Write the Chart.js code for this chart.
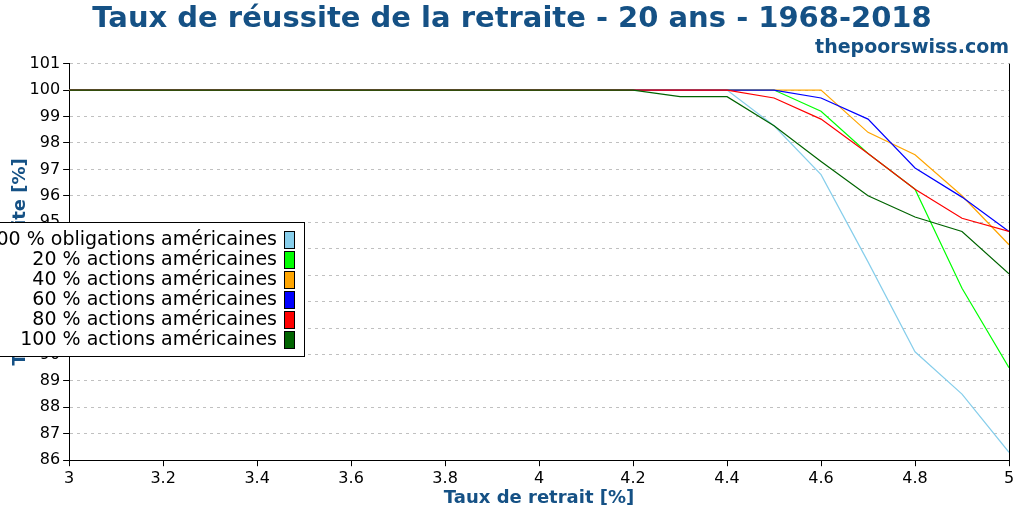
<!DOCTYPE html>
<html>
<head>
<meta charset="utf-8">
<script src="https://cdn.jsdelivr.net/npm/chart.js@4"></script>
<style>
  body { margin: 0; background: #fff; }
  #wrap { width: 1024px; height: 512px; }
</style>
</head>
<body>
<div id="wrap"><canvas id="myChart" width="1024" height="512"></canvas></div>
<script>
const withdrawalRates = [3.0, 3.1, 3.2, 3.3, 3.4, 3.5, 3.6, 3.7, 3.8, 3.9, 4.0, 4.1, 4.2, 4.3, 4.4, 4.5, 4.6, 4.7, 4.8, 4.9, 5.0];

const bonds100 = [100, 100, 100, 100, 100, 100, 100, 100, 100, 100, 100, 100, 100, 100, 100, 98.65, 96.8, 93.5, 90.1, 88.5, 86.3];
const stocks20 = [100, 100, 100, 100, 100, 100, 100, 100, 100, 100, 100, 100, 100, 100, 100, 100, 99.2, 97.6, 96.25, 92.5, 89.5];
const stocks40 = [100, 100, 100, 100, 100, 100, 100, 100, 100, 100, 100, 100, 100, 100, 100, 100, 100, 98.4, 97.55, 96.0, 94.15];
const stocks60 = [100, 100, 100, 100, 100, 100, 100, 100, 100, 100, 100, 100, 100, 100, 100, 100, 99.7, 98.9, 97.05, 95.95, 94.65];
const stocks80 = [100, 100, 100, 100, 100, 100, 100, 100, 100, 100, 100, 100, 100, 100, 100, 99.7, 98.9, 97.6, 96.25, 95.15, 94.65];
const stocks100 = [100, 100, 100, 100, 100, 100, 100, 100, 100, 100, 100, 100, 100, 99.75, 99.75, 98.65, 97.3, 96.0, 95.2, 94.65, 93.05];

const seriesLabels = [
  '100 % obligations américaines',
  '20 % actions américaines',
  '40 % actions américaines',
  '60 % actions américaines',
  '80 % actions américaines',
  '100 % actions américaines'
];
const seriesValues = [bonds100, stocks20, stocks40, stocks60, stocks80, stocks100];
const seriesColors = ['#87ceeb', '#00ff00', '#ffa500', '#0000ff', '#ff0000', '#006400'];

const blueText = '#155185';
const font = 'DejaVu Sans';

function toPoints(values) {
  return values.map((v, i) => ({ x: withdrawalRates[i], y: v }));
}

// legend box drawn over the plot, like the original picture
const boxLegend = {
  id: 'boxLegend',
  afterDraw(chart) {
    const ctx = chart.ctx;
    ctx.save();
    const right = 304, top = 222, bottom = 356, left = -5;
    ctx.fillStyle = '#fff';
    ctx.fillRect(left, top, right - left, bottom - top);
    ctx.strokeStyle = '#000';
    ctx.lineWidth = 1;
    ctx.strokeRect(left + 0.5, top + 0.5, right - left, bottom - top);
    ctx.font = '19px ' + font;
    ctx.textAlign = 'right';
    ctx.textBaseline = 'middle';
    seriesLabels.forEach((label, i) => {
      const cy = 240 + i * 20;
      ctx.fillStyle = '#000';
      ctx.fillText(label, 277, cy);
      ctx.fillStyle = seriesColors[i];
      ctx.fillRect(284.5, cy - 8.5, 10, 17);
      ctx.strokeRect(284.5, cy - 8.5, 10, 17);
    });
    // right spine
    const a = chart.chartArea;
    ctx.beginPath();
    ctx.moveTo(a.right + 0.5, a.top);
    ctx.lineTo(a.right + 0.5, a.bottom);
    ctx.stroke();
    ctx.restore();
  }
};

const data = {
  datasets: seriesLabels.map((label, i) => ({
    label: label,
    data: toPoints(seriesValues[i]),
    borderColor: seriesColors[i],
    backgroundColor: seriesColors[i],
    borderWidth: 1.2,
    pointRadius: 0,
    tension: 0,
    order: seriesLabels.length - i
  }))
};

const config = {
  type: 'line',
  data: data,
  options: {
    responsive: false,
    animation: false,
    layout: { padding: { left: 15, right: 15, top: 0, bottom: 0 } },
    plugins: {
      legend: { display: false },
      tooltip: { enabled: false },
      title: {
        display: true,
        text: 'Taux de réussite de la retraite - 20 ans - 1968-2018',
        color: blueText,
        font: { family: font, size: 29, weight: 'bold' },
        padding: { top: 2, bottom: 0 }
      },
      subtitle: {
        display: true,
        text: 'thepoorswiss.com',
        align: 'end',
        color: blueText,
        font: { family: font, size: 19, weight: 'bold' },
        padding: { top: 0, bottom: 4 }
      }
    },
    scales: {
      x: {
        type: 'linear',
        min: 3,
        max: 5,
        ticks: {
          stepSize: 0.2,
          color: '#000',
          font: { family: font, size: 16 },
          padding: 3,
          maxRotation: 0,
          callback: v => Math.round(v * 10) / 10
        },
        grid: { drawOnChartArea: false, tickLength: 6, tickColor: '#000' },
        border: { color: '#000', width: 1 },
        title: {
          display: true,
          text: 'Taux de retrait [%]',
          color: blueText,
          font: { family: font, size: 18, weight: 'bold' },
          padding: { top: -4, bottom: 3 }
        }
      },
      y: {
        min: 86,
        max: 101,
        ticks: {
          stepSize: 1,
          color: '#000',
          font: { family: font, size: 16 },
          padding: 3
        },
        grid: { color: '#c0c0c0', tickLength: 6, tickColor: '#000', tickBorderDash: [] },
        border: { color: '#000', width: 1, dash: [3, 4] },
        title: {
          display: true,
          text: 'Taux de réussite [%]',
          color: blueText,
          font: { family: font, size: 18, weight: 'bold' },
          padding: { top: -5, bottom: -5 }
        }
      }
    }
  },
  plugins: [boxLegend]
};

const myChart = new Chart(document.getElementById('myChart'), config);
</script>
</body>
</html>
